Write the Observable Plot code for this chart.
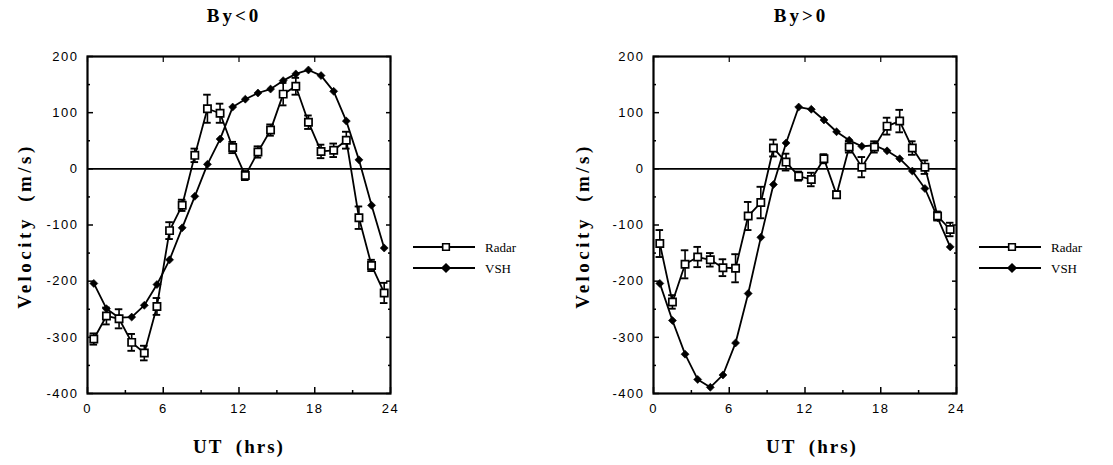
<!DOCTYPE html>
<html>
<head>
<meta charset="utf-8">
<script src="https://cdn.jsdelivr.net/npm/d3@7"></script>
<script src="https://cdn.jsdelivr.net/npm/@observablehq/plot@0.6"></script>
<style>
  html, body { margin: 0; padding: 0; background: #fff; }
  #root { position: relative; width: 1113px; height: 465px; overflow: hidden; background: #fff; }
  .abs { position: absolute; white-space: nowrap; }
  .title { font-family: "Liberation Serif", "Times New Roman", serif; font-weight: bold; font-size: 19px; letter-spacing: 3px; transform: translate(-50%, -50%); }
  .xlab { font-family: "Liberation Serif", "Times New Roman", serif; font-weight: bold; font-size: 19px; letter-spacing: 2px; word-spacing: 6px; transform: translate(-50%, -50%); }
  .ylab { font-family: "Liberation Serif", "Times New Roman", serif; font-weight: bold; font-size: 19px; letter-spacing: 3.5px; word-spacing: 6px; transform: translate(-50%, -50%) rotate(-90deg); }
  .leg { font-family: "Liberation Serif", "Times New Roman", serif; font-size: 13px; }
  .plotbox { position: absolute; top: 0; }
</style>
</head>
<body>
<div id="root"></div>
<script>
// ---- data ----
const hours = [0.5,1.5,2.5,3.5,4.5,5.5,6.5,7.5,8.5,9.5,10.5,11.5,12.5,13.5,14.5,15.5,16.5,17.5,18.5,19.5,20.5,21.5,22.5,23.5];

// By<0 panel
const radarNeg    = [-303,-262,-267,-309,-328,-245,-110,-65,24,107,99,38,-12,30,69,133,147,83,31,33,51,-87,-172,-221];
const radarNegErr = [10,15,17,15,13,15,15,10,12,25,17,10,8,10,10,20,15,12,12,12,15,20,10,18];
const vshNeg      = [-204,-249,-265,-264,-243,-206,-162,-105,-49,8,53,110,124,135,142,157,169,176,166,138,85,16,-65,-141];

// By>0 panel
const radarPos    = [-133,-237,-170,-157,-162,-176,-177,-84,-60,37,12,-13,-19,18,-46,39,3,39,76,85,37,3,-84,-108];
const radarPosErr = [24,12,25,18,12,15,25,25,28,15,15,8,12,8,6,10,18,10,15,20,12,12,8,12];
const vshPos      = [-204,-270,-330,-375,-389,-367,-310,-222,-122,-28,46,110,106,87,66,51,40,42,32,18,-4,-35,-87,-139];

const titles = ["By<0", "By>0"];
const seriesNames = ["Radar", "VSH"];
const xMajor = [0, 6, 12, 18, 24];
const xMinor = [3, 9, 15, 21];
const yMajor = [-400, -300, -200, -100, 0, 100, 200];
const yMinor = [-350, -250, -150, -50, 50, 150];
const xLabel = "UT  (hrs)";
const yLabel = "Velocity  (m/s)";

// ---- drawing ----
const root = document.getElementById("root");
const fmt = d => String(d); // plain hyphen-minus like the original

function panel(radar, err, vsh) {
  const rd = hours.map((h, i) => ({h, v: radar[i], lo: radar[i] - err[i], hi: radar[i] + err[i]}));
  const vd = hours.map((h, i) => ({h, v: vsh[i]}));
  const lw = 1.8;
  return Plot.plot({
    width: 430, height: 465,
    marginLeft: 87, marginRight: 40, marginTop: 56, marginBottom: 72,
    x: {domain: [0, 24]},
    y: {domain: [-400, 200]},
    style: {fontFamily: "'Liberation Sans', Arial, sans-serif", fontSize: "13px", letterSpacing: "1.5px", background: "transparent", color: "black", overflow: "visible"},
    marks: [
      // tick labels
      Plot.axisX(xMajor, {anchor: "bottom", tickSize: 0, tickPadding: 10, label: null, stroke: "none", tickFormat: fmt}),
      Plot.axisY(yMajor, {anchor: "left", tickSize: 0, tickPadding: 9, label: null, stroke: "none", tickFormat: fmt}),
      // inward ticks
      Plot.axisX(xMajor, {anchor: "bottom", tickSize: 6, dy: -6, fill: "none", label: null, strokeWidth: 1.5}),
      Plot.axisX(xMinor, {anchor: "bottom", tickSize: 3, dy: -3, fill: "none", label: null, strokeWidth: 1.5}),
      Plot.axisX(xMajor, {anchor: "top", tickSize: 5, dy: 5, fill: "none", label: null, strokeWidth: 1.2}),
      Plot.axisY(yMajor, {anchor: "left", tickSize: 6, dx: 6, fill: "none", label: null, strokeWidth: 1.5}),
      Plot.axisY(yMinor, {anchor: "left", tickSize: 3, dx: 3, fill: "none", label: null, strokeWidth: 1.5}),
      Plot.axisY(yMajor, {anchor: "right", tickSize: 5, dx: -5, fill: "none", label: null, strokeWidth: 1.5}),
      Plot.axisY(yMinor, {anchor: "right", tickSize: 3, dx: -3, fill: "none", label: null, strokeWidth: 1.5}),
      Plot.frame({strokeWidth: 2.2}),
      Plot.ruleY([0], {strokeWidth: 1.8}),
      // VSH
      Plot.line(vd, {x: "h", y: "v", strokeWidth: lw}),
      Plot.dot(vd, {x: "h", y: "v", symbol: "diamond2", r: 3.6, fill: "black", stroke: "black", strokeWidth: 0.6}),
      // Radar with error bars
      Plot.line(rd, {x: "h", y: "v", strokeWidth: lw}),
      Plot.ruleX(rd, {x: "h", y1: "lo", y2: "hi", strokeWidth: 1.6}),
      Plot.ruleY(rd, {y: "lo", x1: d => d.h - 0.3, x2: d => d.h + 0.3, strokeWidth: 1.9}),
      Plot.ruleY(rd, {y: "hi", x1: d => d.h - 0.3, x2: d => d.h + 0.3, strokeWidth: 1.9}),
      Plot.dot(rd, {x: "h", y: "v", symbol: "square", r: 4.1, fill: "white", stroke: "black", strokeWidth: 1.7})
    ]
  });
}

function addDiv(cls, text, x, y) {
  const d = document.createElement("div");
  d.className = "abs " + cls;
  d.textContent = text;
  d.style.left = x + "px";
  d.style.top = y + "px";
  root.appendChild(d);
  return d;
}

function legend(left, top) {
  const w = 110, h = 40;
  const svg = d3.create("svg").attr("width", w).attr("height", h)
    .style("position", "absolute").style("left", left + "px").style("top", top + "px")
    .style("overflow", "visible");
  const rows = [
    {name: seriesNames[0], y: 9, sym: d3.symbolSquare, size: 44, fill: "white"},
    {name: seriesNames[1], y: 30, sym: d3.symbolDiamond2, size: 40, fill: "black"}
  ];
  rows.forEach(r => {
    svg.append("line").attr("x1", 0).attr("x2", 62).attr("y1", r.y).attr("y2", r.y)
      .attr("stroke", "black").attr("stroke-width", 1.8);
    svg.append("path").attr("d", d3.symbol(r.sym, r.size)()).attr("transform", `translate(33,${r.y})`)
      .attr("fill", r.fill).attr("stroke", "black").attr("stroke-width", 1.6);
    svg.append("text").attr("x", 72).attr("y", r.y).attr("dy", "0.35em")
      .attr("class", "leg").text(r.name);
  });
  root.appendChild(svg.node());
}

const panels = [
  {radar: radarNeg, err: radarNegErr, vsh: vshNeg, left: 0, titleX: 234, xlabX: 239, ylabX: 25, legX: 413},
  {radar: radarPos, err: radarPosErr, vsh: vshPos, left: 566, titleX: 801, xlabX: 812, ylabX: 583, legX: 979}
];

panels.forEach((p, i) => {
  const box = document.createElement("div");
  box.className = "plotbox";
  box.style.left = p.left + "px";
  box.appendChild(panel(p.radar, p.err, p.vsh));
  root.appendChild(box);
  addDiv("title", titles[i], p.titleX, 16);
  addDiv("xlab", xLabel, p.xlabX, 447);
  addDiv("ylab", yLabel, p.ylabX, 226);
  legend(p.legX, 238);
});
</script>
</body>
</html>
